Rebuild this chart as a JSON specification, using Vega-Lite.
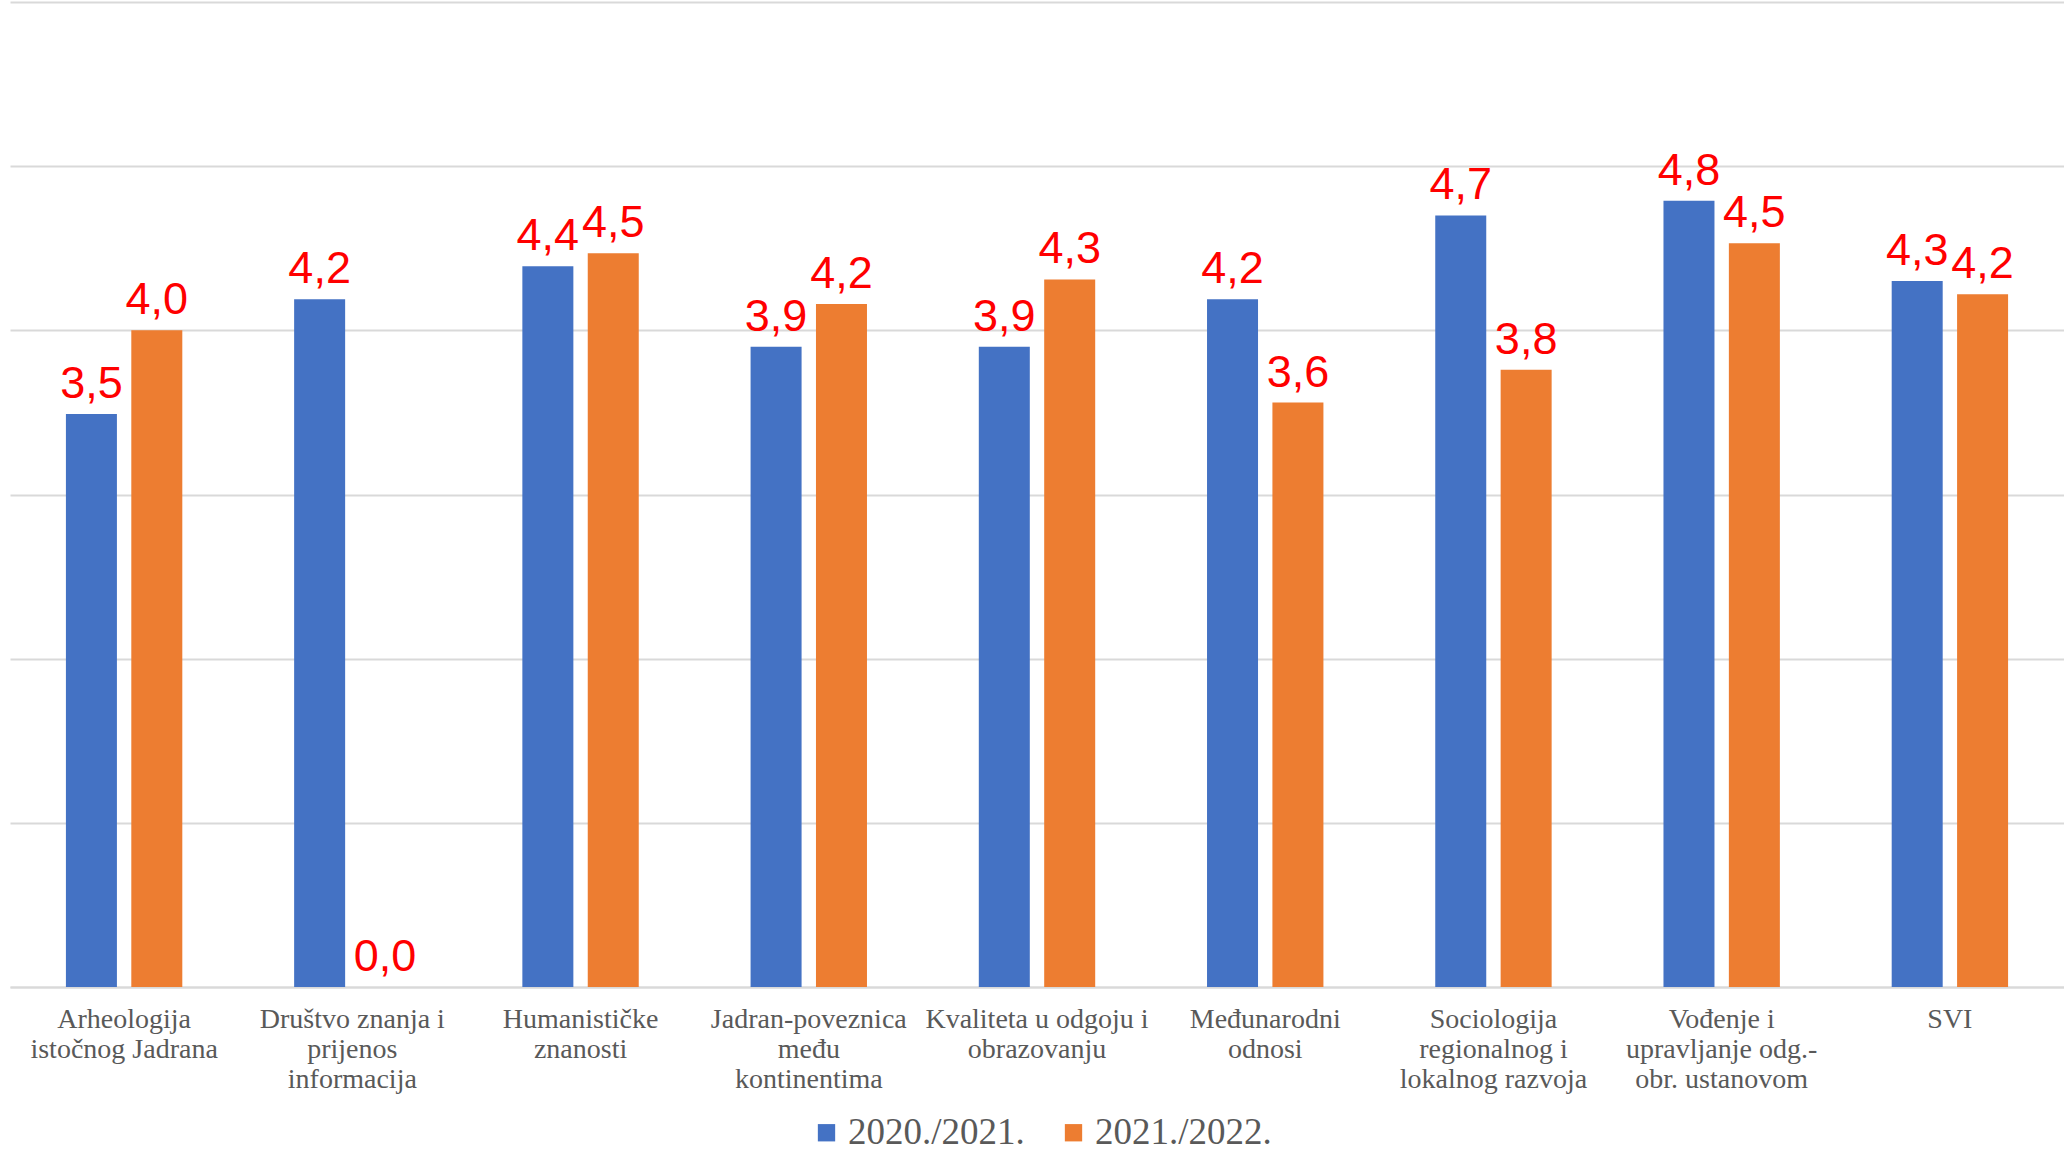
{
  "$schema": "https://vega.github.io/schema/vega-lite/v6.json",
  "autosize": {"type": "none"},
  "width": 2054,
  "height": 985,
  "padding": {"left": 10, "top": 2, "right": 0, "bottom": 169},
  "background": "white",
  "config": {
    "view": {"stroke": null},
    "locale": {"number": {"decimal": ",", "thousands": ".", "grouping": [3], "currency": ["", " €"]}}
  },
  "data": {
    "values": [
      {"program": "Arheologija istočnog Jadrana", "year": "2020./2021.", "value": 3.49},
      {"program": "Arheologija istočnog Jadrana", "year": "2021./2022.", "value": 4.0},
      {"program": "Društvo znanja i prijenos informacija", "year": "2020./2021.", "value": 4.19},
      {"program": "Društvo znanja i prijenos informacija", "year": "2021./2022.", "value": 0.0},
      {"program": "Humanističke znanosti", "year": "2020./2021.", "value": 4.39},
      {"program": "Humanističke znanosti", "year": "2021./2022.", "value": 4.47},
      {"program": "Jadran-poveznica među kontinentima", "year": "2020./2021.", "value": 3.9},
      {"program": "Jadran-poveznica među kontinentima", "year": "2021./2022.", "value": 4.16},
      {"program": "Kvaliteta u odgoju i obrazovanju", "year": "2020./2021.", "value": 3.9},
      {"program": "Kvaliteta u odgoju i obrazovanju", "year": "2021./2022.", "value": 4.31},
      {"program": "Međunarodni odnosi", "year": "2020./2021.", "value": 4.19},
      {"program": "Međunarodni odnosi", "year": "2021./2022.", "value": 3.56},
      {"program": "Sociologija regionalnog i lokalnog razvoja", "year": "2020./2021.", "value": 4.7},
      {"program": "Sociologija regionalnog i lokalnog razvoja", "year": "2021./2022.", "value": 3.76},
      {"program": "Vođenje i upravljanje odg.-obr. ustanovom", "year": "2020./2021.", "value": 4.79},
      {"program": "Vođenje i upravljanje odg.-obr. ustanovom", "year": "2021./2022.", "value": 4.53},
      {"program": "SVI", "year": "2020./2021.", "value": 4.3},
      {"program": "SVI", "year": "2021./2022.", "value": 4.22}
    ]
  },
  "encoding": {
    "x": {
      "field": "program",
      "type": "nominal",
      "sort": null,
      "title": null,
      "scale": {"paddingInner": 0.49, "paddingOuter": 0.245},
      "axis": {
        "labelAngle": 0,
        "ticks": false,
        "domainColor": "#d9d9d9",
        "domainWidth": 2,
        "labelFont": "Liberation Serif",
        "labelFontSize": 28,
        "labelColor": "#595959",
        "labelLineHeight": 30,
        "labelPadding": 18,
        "labelLimit": 0,
        "labelOverlap": false,
        "labelFlush": false,
        "labelExpr": "{'Arheologija istočnog Jadrana': ['Arheologija', 'istočnog Jadrana'], 'Društvo znanja i prijenos informacija': ['Društvo znanja i', 'prijenos', 'informacija'], 'Humanističke znanosti': ['Humanističke', 'znanosti'], 'Jadran-poveznica među kontinentima': ['Jadran-poveznica', 'među', 'kontinentima'], 'Kvaliteta u odgoju i obrazovanju': ['Kvaliteta u odgoju i', 'obrazovanju'], 'Međunarodni odnosi': ['Međunarodni', 'odnosi'], 'Sociologija regionalnog i lokalnog razvoja': ['Sociologija', 'regionalnog i', 'lokalnog razvoja'], 'Vođenje i upravljanje odg.-obr. ustanovom': ['Vođenje i', 'upravljanje odg.-', 'obr. ustanovom'], 'SVI': ['SVI']}[datum.value]"
      }
    },
    "xOffset": {
      "field": "year",
      "type": "nominal",
      "scale": {"paddingInner": 0.22, "paddingOuter": 0}
    },
    "y": {
      "field": "value",
      "type": "quantitative",
      "title": null,
      "scale": {"domain": [0, 6], "nice": false},
      "axis": {
        "values": [0, 1, 2, 3, 4, 5, 6],
        "labels": false,
        "ticks": false,
        "domain": false,
        "gridColor": "#d9d9d9",
        "gridWidth": 2
      }
    }
  },
  "layer": [
    {
      "mark": {"type": "bar"},
      "encoding": {
        "color": {
          "field": "year",
          "type": "nominal",
          "scale": {"domain": ["2020./2021.", "2021./2022."], "range": ["#4472C4", "#ED7D31"]},
          "legend": {
            "title": null,
            "orient": "none",
            "legendX": 798,
            "legendY": 1112,
            "direction": "horizontal",
            "symbolType": "square",
            "symbolSize": 300,
            "symbolStrokeWidth": 0,
            "labelFont": "Liberation Serif",
            "labelFontSize": 37,
            "labelColor": "#595959",
            "labelOffset": 3,
            "labelLimit": 0,
            "columnPadding": 30
          }
        }
      }
    },
    {
      "mark": {
        "type": "text",
        "color": "#FF0000",
        "font": "Liberation Sans",
        "fontSize": 45,
        "baseline": "alphabetic",
        "dy": -16
      },
      "encoding": {
        "text": {"field": "value", "type": "quantitative", "format": ".1f"}
      }
    }
  ]
}
